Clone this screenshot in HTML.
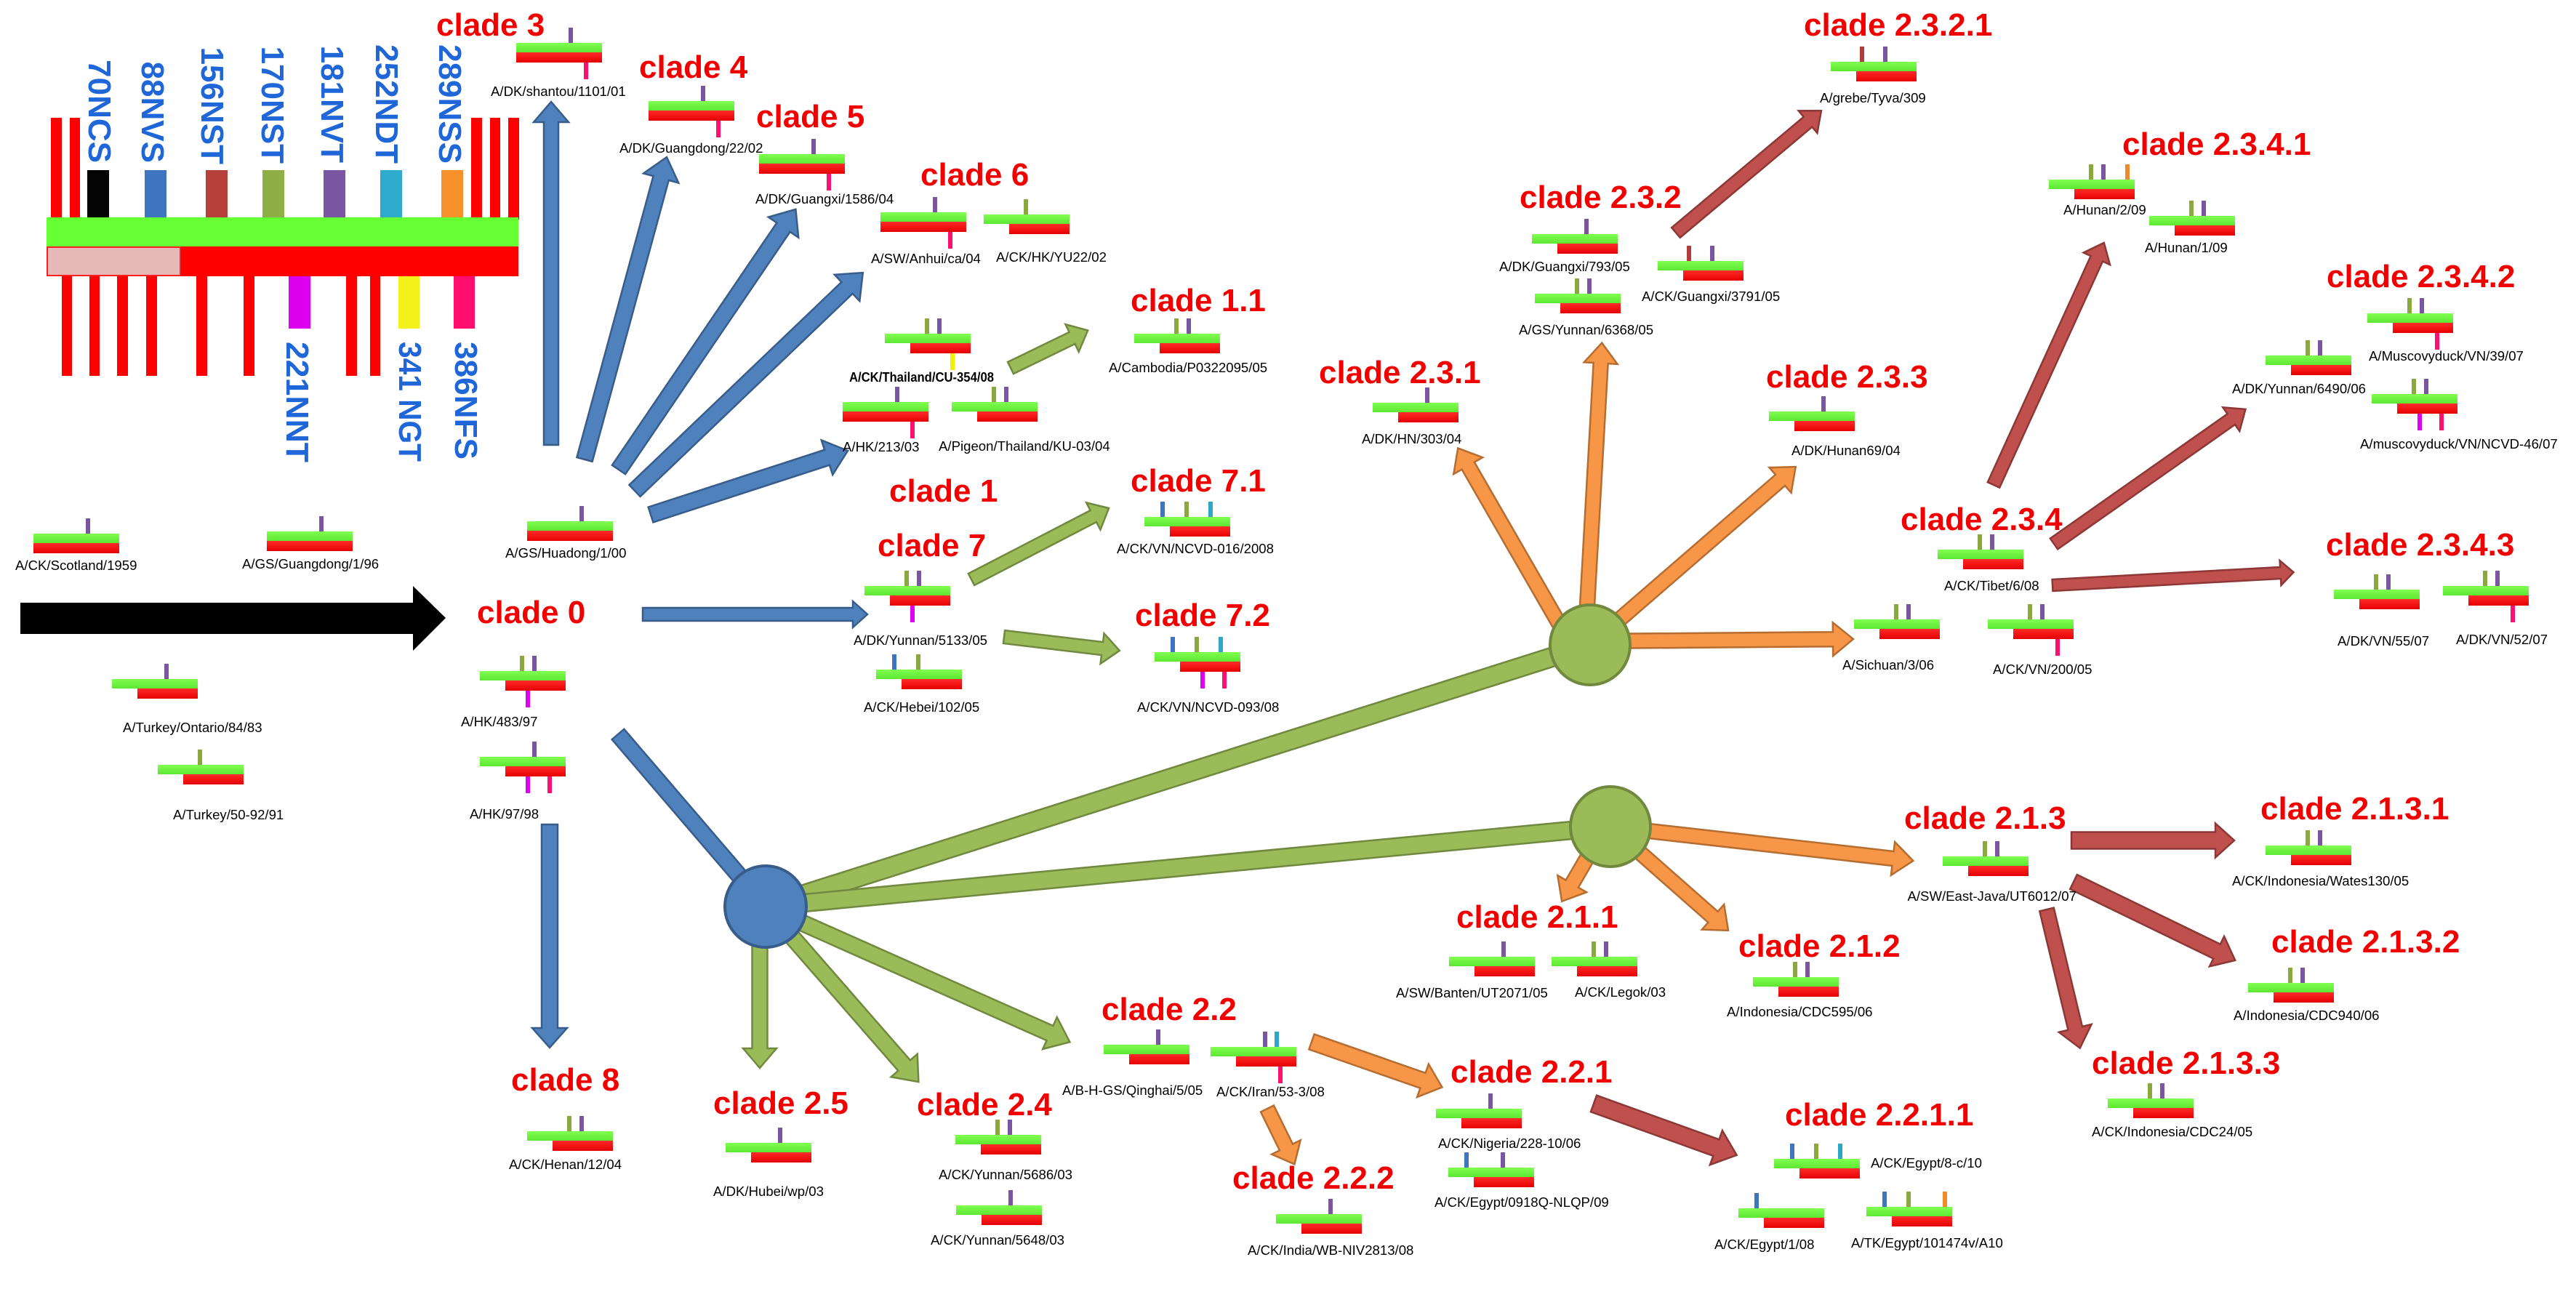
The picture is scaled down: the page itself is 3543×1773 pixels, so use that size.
<!DOCTYPE html>
<html>
<head>
<meta charset="utf-8">
<style>
html,body{margin:0;padding:0;background:#fff;}
body{width:3543px;height:1773px;overflow:hidden;}
svg{display:block;}
.lb{font-family:"Liberation Sans",Arial,sans-serif;font-size:18.6px;fill:#000;}
.cl{font-family:"Liberation Sans",Arial,sans-serif;font-size:44px;font-weight:bold;fill:#f20000;}
.lg{font-family:"Liberation Sans",Arial,sans-serif;font-size:44px;font-weight:bold;fill:#1f66d8;}
.ab{fill:#4f81bd;stroke:#385d8a;stroke-width:2.5;}
.ag{fill:#9bbb59;stroke:#71893f;stroke-width:2.5;}
.ao{fill:#f79646;stroke:#b66d31;stroke-width:2.5;}
.ar{fill:#c0504d;stroke:#8c3836;stroke-width:2.5;}
</style>
</head>
<body>
<svg width="3543" height="1773" viewBox="0 0 3543 1773" xmlns="http://www.w3.org/2000/svg">
<defs>
<linearGradient id="gg" x1="0" y1="0" x2="0" y2="1"><stop offset="0" stop-color="#80ff50"/><stop offset="1" stop-color="#5ee632"/></linearGradient>
<linearGradient id="rg" x1="0" y1="0" x2="0" y2="1"><stop offset="0" stop-color="#ff2a2a"/><stop offset="1" stop-color="#e60000"/></linearGradient>
<g id="F"><rect width="118" height="13" fill="url(#gg)"/><rect y="13" width="118" height="14" fill="url(#rg)"/></g>
<g id="O"><rect width="118" height="13" fill="url(#gg)"/><rect x="35" y="13" width="83" height="14" fill="url(#rg)"/></g>
<rect id="tB" y="-21" width="6" height="21" fill="#3f74c0"/>
<rect id="tR" y="-21" width="6" height="21" fill="#b13c38"/>
<rect id="tO" y="-21" width="6" height="21" fill="#8aa83e"/>
<rect id="tP" y="-21" width="6" height="21" fill="#7a55a0"/>
<rect id="tC" y="-21" width="6" height="21" fill="#2ea6c8"/>
<rect id="tA" y="-21" width="6" height="21" fill="#ef8a28"/>
<rect id="bM" y="27" width="6" height="23" fill="#e000f0"/>
<rect id="bY" y="27" width="6" height="23" fill="#f0f000"/>
<rect id="bK" y="27" width="6" height="23" fill="#ff1070"/>
</defs>

<!-- ===== LEGEND ===== -->
<g>
<!-- top red lines -->
<rect x="70" y="162" width="15" height="140" fill="#ff0000"/>
<rect x="96" y="162" width="14" height="140" fill="#ff0000"/>
<rect x="648" y="162" width="15" height="140" fill="#ff0000"/>
<rect x="674" y="162" width="14" height="140" fill="#ff0000"/>
<rect x="699" y="162" width="15" height="140" fill="#ff0000"/>
<!-- top colored boxes -->
<rect x="120" y="234" width="30" height="65" fill="#050505"/>
<rect x="199" y="234" width="30" height="65" fill="#3f74c0"/>
<rect x="283" y="234" width="30" height="65" fill="#b5403c"/>
<rect x="361" y="234" width="30" height="65" fill="#8fae45"/>
<rect x="445" y="234" width="30" height="65" fill="#7a56a3"/>
<rect x="523" y="234" width="30" height="65" fill="#2eaacc"/>
<rect x="607" y="234" width="30" height="65" fill="#f5902a"/>
<!-- bars -->
<rect x="64" y="299" width="649" height="40" fill="#66ff33"/>
<rect x="64" y="339" width="649" height="41" fill="#ff0000"/>
<rect x="65" y="340" width="183" height="39" fill="#e6b9b8" stroke="#ff2020" stroke-width="2"/>
<!-- bottom red lines -->
<rect x="85" y="380" width="14" height="137" fill="#ff0000"/>
<rect x="123" y="380" width="14" height="137" fill="#ff0000"/>
<rect x="161" y="380" width="15" height="137" fill="#ff0000"/>
<rect x="201" y="380" width="15" height="137" fill="#ff0000"/>
<rect x="270" y="380" width="15" height="137" fill="#ff0000"/>
<rect x="335" y="380" width="15" height="137" fill="#ff0000"/>
<rect x="476" y="380" width="15" height="137" fill="#ff0000"/>
<rect x="509" y="380" width="14" height="137" fill="#ff0000"/>
<!-- bottom colored boxes -->
<rect x="397" y="380" width="30" height="72" fill="#dd00ee"/>
<rect x="548" y="380" width="29" height="72" fill="#f3f01a"/>
<rect x="624" y="380" width="29" height="72" fill="#ff0e6e"/>
<!-- rotated labels -->
<text class="lg" text-anchor="end" transform="translate(122,224) rotate(90)">70NCS</text>
<text class="lg" text-anchor="end" transform="translate(195,224) rotate(90)">88NVS</text>
<text class="lg" text-anchor="end" transform="translate(277,226) rotate(90)">156NST</text>
<text class="lg" text-anchor="end" transform="translate(360,225) rotate(90)">170NST</text>
<text class="lg" text-anchor="end" transform="translate(442,224) rotate(90)">181NVT</text>
<text class="lg" text-anchor="end" transform="translate(517,225) rotate(90)">252NDT</text>
<text class="lg" text-anchor="end" transform="translate(604,225) rotate(90)">289NSS</text>
<text class="lg" transform="translate(394,470) rotate(90)" textLength="166" lengthAdjust="spacingAndGlyphs">221NNT</text>
<text class="lg" transform="translate(549,470) rotate(90)" textLength="165" lengthAdjust="spacingAndGlyphs">341 NGT</text>
<text class="lg" transform="translate(626,470) rotate(90)" textLength="162" lengthAdjust="spacingAndGlyphs">386NFS</text>
</g>

<!-- ===== BLACK ARROW ===== -->
<polygon points="28,829 568,829 568,806 613,850 568,895 568,872 28,872" fill="#000"/>

<!-- ===== CONNECTOR LINES (under circles) ===== -->
<polygon class="ag" transform="translate(1053,1247) rotate(-17.6)" points="0,-13 1190,-13 1190,13 0,13"/>
<polygon class="ag" transform="translate(1053,1247) rotate(-5.41)" points="0,-12 1167,-12 1167,12 0,12"/>
<polygon class="ab" transform="translate(850,1010) rotate(49.4)" points="0,-11 312,-11 312,11 0,11"/>

<!-- ===== BLUE ARROWS ===== -->
<polygon class="ab" transform="translate(758,612) rotate(-90)" points="0,-10 444,-10 444,-24 472,0 444,24 444,10 0,10"/>
<polygon class="ab" transform="translate(804,632) rotate(-74.8)" points="0,-11 401,-11 401,-25 431,0 401,25 401,11 0,11"/>
<polygon class="ab" transform="translate(851,646) rotate(-55.8)" points="0,-11 403,-11 403,-25 433,0 403,25 403,11 0,11"/>
<polygon class="ab" transform="translate(873,675) rotate(-43.7)" points="0,-11 404,-11 404,-25 434,0 404,25 404,11 0,11"/>
<polygon class="ab" transform="translate(895,708) rotate(-18)" points="0,-11 255,-11 255,-25 285,0 255,25 255,11 0,11"/>
<polygon class="ab" transform="translate(884,845)" points="0,-9 289,-9 289,-18 309,0 289,18 289,9 0,9"/>
<polygon class="ab" transform="translate(756,1134) rotate(90)" points="0,-11 280,-11 280,-24 307,0 280,24 280,11 0,11"/>

<!-- ===== GREEN ARROWS ===== -->
<polygon class="ag" transform="translate(1390,506) rotate(-25.9)" points="0,-9 94,-9 94,-21 118,0 94,21 94,9 0,9"/>
<polygon class="ag" transform="translate(1336,797) rotate(-27.4)" points="0,-9 189,-9 189,-21 213,0 189,21 189,9 0,9"/>
<polygon class="ag" transform="translate(1381,876) rotate(6.8)" points="0,-9 136,-9 136,-21 160,0 136,21 136,9 0,9"/>
<polygon class="ag" transform="translate(1045,1247) rotate(90)" points="0,-10.5 195,-10.5 195,-23 222,0 195,23 195,10.5 0,10.5"/>
<polygon class="ag" transform="translate(1053,1247) rotate(48.9)" points="0,-11 290,-11 290,-24 320,0 290,24 290,11 0,11"/>
<polygon class="ag" transform="translate(1053,1247) rotate(24)" points="0,-11 428,-11 428,-24 458,0 428,24 428,11 0,11"/>

<!-- ===== ORANGE ARROWS ===== -->
<polygon class="ao" transform="translate(2160,885) rotate(-119.95)" points="0,-10 282,-10 282,-23 310,0 282,23 282,10 0,10"/>
<polygon class="ao" transform="translate(2180,887) rotate(-86.8)" points="0,-10 388,-10 388,-23 416,0 388,23 388,10 0,10"/>
<polygon class="ao" transform="translate(2187,887) rotate(-40.9)" points="0,-10 346,-10 346,-23 374,0 346,23 346,10 0,10"/>
<polygon class="ao" transform="translate(2187,882) rotate(-0.47)" points="0,-10 334,-10 334,-23 362,0 334,23 334,10 0,10"/>
<polygon class="ao" transform="translate(2215,1137) rotate(6.45)" points="0,-10 391,-10 391,-23 419,0 391,23 391,10 0,10"/>
<polygon class="ao" transform="translate(2208,1137) rotate(120.2)" points="0,-10 91,-10 91,-23 119,0 91,23 91,10 0,10"/>
<polygon class="ao" transform="translate(2215,1137) rotate(41.4)" points="0,-10 188,-10 188,-23 216,0 188,23 188,10 0,10"/>
<polygon class="ao" transform="translate(1804,1433) rotate(19.2)" points="0,-11 162,-11 162,-24 190,0 162,24 162,11 0,11"/>
<polygon class="ao" transform="translate(1743,1525) rotate(63.9)" points="0,-10 59,-10 59,-22 85,0 59,22 59,10 0,10"/>

<!-- ===== DARK RED ARROWS ===== -->
<polygon class="ar" transform="translate(2305,320) rotate(-40)" points="0,-9 237,-9 237,-20 261,0 237,20 237,9 0,9"/>
<polygon class="ar" transform="translate(2742,667) rotate(-65.5)" points="0,-9 342,-9 342,-20 366,0 342,20 342,9 0,9"/>
<polygon class="ar" transform="translate(2825,748) rotate(-35.1)" points="0,-9 298,-9 298,-20 322,0 298,20 298,9 0,9"/>
<polygon class="ar" transform="translate(2823,805) rotate(-3.1)" points="0,-8 314,-8 314,-17 332,0 314,17 314,8 0,8"/>
<polygon class="ar" transform="translate(2849,1156)" points="0,-11.5 198,-11.5 198,-23.5 224,0 198,23.5 198,11.5 0,11.5"/>
<polygon class="ar" transform="translate(2852,1213) rotate(25.9)" points="0,-11 219,-11 219,-23 247,0 219,23 219,11 0,11"/>
<polygon class="ar" transform="translate(2815,1251) rotate(76.5)" points="0,-10 168,-10 168,-23 196,0 168,23 168,10 0,10"/>
<polygon class="ar" transform="translate(2192,1518) rotate(19.8)" points="0,-12 179,-12 179,-25 209,0 179,25 179,12 0,12"/>

<!-- ===== CIRCLES ===== -->
<circle cx="1053" cy="1247" r="56" fill="#4f81bd" stroke="#385d8a" stroke-width="4"/>
<circle cx="2187" cy="887" r="55" fill="#9bbb59" stroke="#71893f" stroke-width="4"/>
<circle cx="2215" cy="1137" r="55" fill="#9bbb59" stroke="#71893f" stroke-width="4"/>

<!-- ===== NODES ===== -->
<g transform="translate(46,734)"><use href="#F"/><use href="#tP" x="72"/></g>
<g transform="translate(367,731)"><use href="#F"/><use href="#tP" x="72"/></g>
<g transform="translate(154,934)"><use href="#O"/><use href="#tP" x="72"/></g>
<g transform="translate(217,1052)"><use href="#O"/><use href="#tO" x="55"/></g>
<g transform="translate(710,59)"><use href="#F"/><use href="#tP" x="72"/><use href="#bK" x="93"/></g>
<g transform="translate(892,139)"><use href="#F"/><use href="#tP" x="72"/><use href="#bK" x="93"/></g>
<g transform="translate(1044,212)"><use href="#F"/><use href="#tP" x="72"/><use href="#bK" x="93"/></g>
<g transform="translate(1211,292)"><use href="#F"/><use href="#tP" x="72"/><use href="#bK" x="93"/></g>
<g transform="translate(1353,295)"><use href="#O"/><use href="#tO" x="55"/></g>
<g transform="translate(1217,459)"><use href="#O"/><use href="#tO" x="55"/><use href="#tP" x="72"/><use href="#bY" x="90"/></g>
<g transform="translate(1159,553)"><use href="#F"/><use href="#tP" x="72"/><use href="#bK" x="93"/></g>
<g transform="translate(1309,553)"><use href="#O"/><use href="#tO" x="55"/><use href="#tP" x="72"/></g>
<g transform="translate(1560,459)"><use href="#O"/><use href="#tO" x="55"/><use href="#tP" x="72"/></g>
<g transform="translate(725,717)"><use href="#F"/><use href="#tP" x="72"/></g>
<g transform="translate(660,923)"><use href="#O"/><use href="#tO" x="55"/><use href="#tP" x="72"/><use href="#bM" x="63"/></g>
<g transform="translate(660,1041)"><use href="#O"/><use href="#tP" x="72"/><use href="#bM" x="63"/><use href="#bK" x="93"/></g>
<g transform="translate(1189,806)"><use href="#O"/><use href="#tO" x="55"/><use href="#tP" x="72"/><use href="#bM" x="63"/></g>
<g transform="translate(1205,921)"><use href="#O"/><use href="#tB" x="22"/><use href="#tO" x="55"/></g>
<g transform="translate(1574,711)"><use href="#O"/><use href="#tB" x="22"/><use href="#tO" x="55"/><use href="#tC" x="88"/></g>
<g transform="translate(1588,897)"><use href="#O"/><use href="#tB" x="22"/><use href="#tO" x="55"/><use href="#tC" x="88"/><use href="#bM" x="63"/><use href="#bK" x="93"/></g>
<g transform="translate(725,1556)"><use href="#O"/><use href="#tO" x="55"/><use href="#tP" x="72"/></g>
<g transform="translate(998,1572)"><use href="#O"/><use href="#tP" x="72"/></g>
<g transform="translate(1314,1561)"><use href="#O"/><use href="#tO" x="55"/><use href="#tP" x="72"/></g>
<g transform="translate(1315,1658)"><use href="#O"/><use href="#tP" x="72"/></g>
<g transform="translate(1518,1437)"><use href="#O"/><use href="#tP" x="72"/></g>
<g transform="translate(1665,1440)"><use href="#O"/><use href="#tP" x="72"/><use href="#tC" x="88"/><use href="#bK" x="93"/></g>
<g transform="translate(1975,1525)"><use href="#O"/><use href="#tP" x="72"/></g>
<g transform="translate(1992,1606)"><use href="#O"/><use href="#tB" x="22"/><use href="#tP" x="72"/></g>
<g transform="translate(1755,1670)"><use href="#O"/><use href="#tP" x="72"/></g>
<g transform="translate(2440,1594)"><use href="#O"/><use href="#tB" x="22"/><use href="#tO" x="55"/><use href="#tC" x="88"/></g>
<g transform="translate(2391,1662)"><use href="#O"/><use href="#tB" x="22"/></g>
<g transform="translate(2567,1660)"><use href="#O"/><use href="#tB" x="22"/><use href="#tO" x="55"/><use href="#tA" x="105"/></g>
<g transform="translate(1993,1316)"><use href="#O"/><use href="#tP" x="72"/></g>
<g transform="translate(2134,1316)"><use href="#O"/><use href="#tO" x="55"/><use href="#tP" x="72"/></g>
<g transform="translate(2411,1344)"><use href="#O"/><use href="#tO" x="55"/><use href="#tP" x="72"/></g>
<g transform="translate(2672,1178)"><use href="#O"/><use href="#tO" x="55"/><use href="#tP" x="72"/></g>
<g transform="translate(3116,1163)"><use href="#O"/><use href="#tO" x="55"/><use href="#tP" x="72"/></g>
<g transform="translate(3092,1352)"><use href="#O"/><use href="#tO" x="55"/><use href="#tP" x="72"/></g>
<g transform="translate(2899,1511)"><use href="#O"/><use href="#tO" x="55"/><use href="#tP" x="72"/></g>
<g transform="translate(1888,554)"><use href="#O"/><use href="#tP" x="72"/></g>
<g transform="translate(2107,322)"><use href="#O"/><use href="#tP" x="72"/></g>
<g transform="translate(2280,359)"><use href="#O"/><use href="#tR" x="40"/><use href="#tP" x="72"/></g>
<g transform="translate(2111,404)"><use href="#O"/><use href="#tO" x="55"/><use href="#tP" x="72"/></g>
<g transform="translate(2518,85)"><use href="#O"/><use href="#tR" x="40"/><use href="#tP" x="72"/></g>
<g transform="translate(2433,566)"><use href="#O"/><use href="#tP" x="72"/></g>
<g transform="translate(2550,852)"><use href="#O"/><use href="#tO" x="55"/><use href="#tP" x="72"/></g>
<g transform="translate(2734,852)"><use href="#O"/><use href="#tO" x="55"/><use href="#tP" x="72"/><use href="#bK" x="93"/></g>
<g transform="translate(2665,756)"><use href="#O"/><use href="#tO" x="55"/><use href="#tP" x="72"/></g>
<g transform="translate(2818,247)"><use href="#O"/><use href="#tO" x="55"/><use href="#tP" x="72"/><use href="#tA" x="105"/></g>
<g transform="translate(2956,297)"><use href="#O"/><use href="#tO" x="55"/><use href="#tP" x="72"/></g>
<g transform="translate(3256,431)"><use href="#O"/><use href="#tO" x="55"/><use href="#tP" x="72"/><use href="#bK" x="93"/></g>
<g transform="translate(3116,489)"><use href="#O"/><use href="#tO" x="55"/><use href="#tP" x="72"/></g>
<g transform="translate(3262,542)"><use href="#O"/><use href="#tO" x="55"/><use href="#tP" x="72"/><use href="#bM" x="63"/><use href="#bK" x="93"/></g>
<g transform="translate(3210,811)"><use href="#O"/><use href="#tO" x="55"/><use href="#tP" x="72"/></g>
<g transform="translate(3360,806)"><use href="#O"/><use href="#tO" x="55"/><use href="#tP" x="72"/><use href="#bK" x="93"/></g>

<!-- ===== NODE LABELS ===== -->
<g class="lb">
<text x="21" y="784">A/CK/Scotland/1959</text>
<text x="333" y="782">A/GS/Guangdong/1/96</text>
<text x="169" y="1007">A/Turkey/Ontario/84/83</text>
<text x="238" y="1127">A/Turkey/50-92/91</text>
<text x="675" y="132">A/DK/shantou/1101/01</text>
<text x="852" y="210">A/DK/Guangdong/22/02</text>
<text x="1039" y="280">A/DK/Guangxi/1586/04</text>
<text x="1198" y="362">A/SW/Anhui/ca/04</text>
<text x="1370" y="360">A/CK/HK/YU22/02</text>
<text x="1168" y="525" font-weight="bold" textLength="199" lengthAdjust="spacingAndGlyphs">A/CK/Thailand/CU-354/08</text>
<text x="1159" y="621">A/HK/213/03</text>
<text x="1291" y="620">A/Pigeon/Thailand/KU-03/04</text>
<text x="1525" y="512">A/Cambodia/P0322095/05</text>
<text x="695" y="767">A/GS/Huadong/1/00</text>
<text x="634" y="999">A/HK/483/97</text>
<text x="646" y="1126">A/HK/97/98</text>
<text x="1174" y="887">A/DK/Yunnan/5133/05</text>
<text x="1188" y="979">A/CK/Hebei/102/05</text>
<text x="1536" y="761">A/CK/VN/NCVD-016/2008</text>
<text x="1564" y="979">A/CK/VN/NCVD-093/08</text>
<text x="700" y="1608">A/CK/Henan/12/04</text>
<text x="981" y="1645">A/DK/Hubei/wp/03</text>
<text x="1291" y="1622">A/CK/Yunnan/5686/03</text>
<text x="1280" y="1712">A/CK/Yunnan/5648/03</text>
<text x="1461" y="1506">A/B-H-GS/Qinghai/5/05</text>
<text x="1673" y="1508">A/CK/Iran/53-3/08</text>
<text x="1978" y="1579">A/CK/Nigeria/228-10/06</text>
<text x="1973" y="1660">A/CK/Egypt/0918Q-NLQP/09</text>
<text x="1716" y="1726">A/CK/India/WB-NIV2813/08</text>
<text x="2573" y="1606">A/CK/Egypt/8-c/10</text>
<text x="2358" y="1718">A/CK/Egypt/1/08</text>
<text x="2546" y="1716">A/TK/Egypt/101474v/A10</text>
<text x="1920" y="1372">A/SW/Banten/UT2071/05</text>
<text x="2166" y="1371">A/CK/Legok/03</text>
<text x="2375" y="1398">A/Indonesia/CDC595/06</text>
<text x="2856" y="1239" text-anchor="end">A/SW/East-Java/UT6012/07</text>
<text x="3070" y="1218">A/CK/Indonesia/Wates130/05</text>
<text x="3072" y="1403">A/Indonesia/CDC940/06</text>
<text x="2877" y="1563">A/CK/Indonesia/CDC24/05</text>
<text x="1873" y="610">A/DK/HN/303/04</text>
<text x="2062" y="373">A/DK/Guangxi/793/05</text>
<text x="2258" y="414">A/CK/Guangxi/3791/05</text>
<text x="2089" y="460">A/GS/Yunnan/6368/05</text>
<text x="2503" y="141">A/grebe/Tyva/309</text>
<text x="2464" y="626">A/DK/Hunan69/04</text>
<text x="2534" y="921">A/Sichuan/3/06</text>
<text x="2741" y="927">A/CK/VN/200/05</text>
<text x="2674" y="812">A/CK/Tibet/6/08</text>
<text x="2838" y="295">A/Hunan/2/09</text>
<text x="2950" y="347">A/Hunan/1/09</text>
<text x="3258" y="496">A/Muscovyduck/VN/39/07</text>
<text x="3070" y="541">A/DK/Yunnan/6490/06</text>
<text x="3246" y="617">A/muscovyduck/VN/NCVD-46/07</text>
<text x="3215" y="888">A/DK/VN/55/07</text>
<text x="3378" y="886">A/DK/VN/52/07</text>
</g>

<!-- ===== CLADE LABELS ===== -->
<g class="cl">
<text x="600" y="49">clade 3</text>
<text x="879" y="107">clade 4</text>
<text x="1040" y="175">clade 5</text>
<text x="1266" y="255">clade 6</text>
<text x="1555" y="428">clade 1.1</text>
<text x="1223" y="690">clade 1</text>
<text x="1207" y="765">clade 7</text>
<text x="1555" y="676">clade 7.1</text>
<text x="1561" y="861">clade 7.2</text>
<text x="656" y="857">clade 0</text>
<text x="703" y="1500">clade 8</text>
<text x="981" y="1532">clade 2.5</text>
<text x="1261" y="1534">clade 2.4</text>
<text x="1515" y="1403">clade 2.2</text>
<text x="1695" y="1635">clade 2.2.2</text>
<text x="1995" y="1489">clade 2.2.1</text>
<text x="2455" y="1548">clade 2.2.1.1</text>
<text x="2003" y="1276">clade 2.1.1</text>
<text x="2391" y="1316">clade 2.1.2</text>
<text x="2619" y="1140">clade 2.1.3</text>
<text x="3109" y="1127">clade 2.1.3.1</text>
<text x="3124" y="1310">clade 2.1.3.2</text>
<text x="2877" y="1477">clade 2.1.3.3</text>
<text x="1814" y="527">clade 2.3.1</text>
<text x="2090" y="286">clade 2.3.2</text>
<text x="2481" y="49">clade 2.3.2.1</text>
<text x="2429" y="533">clade 2.3.3</text>
<text x="2614" y="729">clade 2.3.4</text>
<text x="2919" y="213">clade 2.3.4.1</text>
<text x="3200" y="395">clade 2.3.4.2</text>
<text x="3199" y="764">clade 2.3.4.3</text>
</g>
</svg>
</body>
</html>
